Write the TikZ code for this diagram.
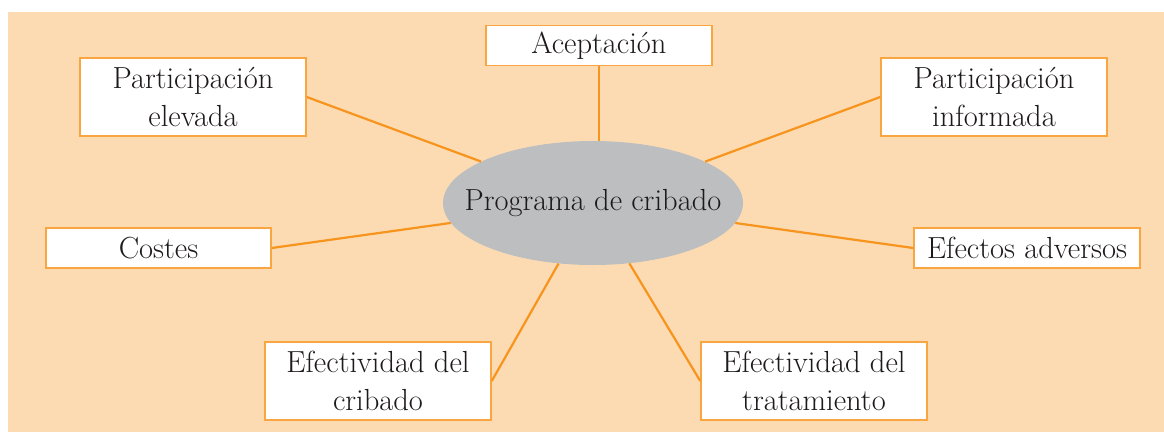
\documentclass[tikz,border=0pt]{standalone}
\usetikzlibrary{shapes.geometric}
\definecolor{peach}{RGB}{253,219,178}
\definecolor{lineor}{RGB}{247,148,29}
\definecolor{boxor}{RGB}{249,166,64}
\definecolor{ellgray}{RGB}{188,190,192}
\definecolor{txt}{RGB}{30,26,27}
\tikzset{
  leaf/.style={draw=boxor, line width=1.5pt, fill=white, inner sep=0pt,
    minimum width=226pt, align=center, text=txt,
    font=\fontsize{30.5}{37.5}\selectfont},
  leafone/.style={leaf, minimum height=40pt},
  leaftwo/.style={leaf, minimum height=78pt},
  hub/.style={ellipse, fill=ellgray, draw=none, inner sep=0pt,
    minimum width=300pt, minimum height=124pt},
  hubtext/.style={inner sep=0pt, text=txt, font=\fontsize{30.5}{37.5}\selectfont},
  spoke/.style={draw=lineor, line width=2.2pt}
}
\begin{document}
\begin{tikzpicture}[x=1pt,y=-1pt]
\useasboundingbox (0,0) rectangle (1164,432);
\fill[white] (0,0) rectangle (1164,432);
\fill[peach] (8,12) rectangle (1164,432);
\node[hub] (ell) at (593,203) {};
\node[hubtext] (elltxt) at (ell.center) {Programa de cribado};
\node[leafone] (acep) at (599,45.5) {Aceptaci\'on};
\node[leaftwo] (pelev) at (193,97) {Participaci\'on\\elevada};
\node[leaftwo] (pinf) at (994,97) {Participaci\'on\\informada};
\node[leafone, minimum width=225pt] (cost) at (158.5,248) {Costes};
\node[leafone] (efad) at (1027,248) {Efectos adversos};
\node[leaftwo] (ecrib) at (378,381) {Efectividad del\\cribado};
\node[leaftwo] (etrat) at (814,381) {Efectividad del\\tratamiento};
\draw[spoke] (acep.south) -- (acep.south |- ell.north);
\draw[spoke] (pelev.east) -- (ell);
\draw[spoke] (pinf.west) -- (ell);
\draw[spoke] (cost.east) -- (ell);
\draw[spoke] (efad.west) -- (ell);
\draw[spoke] (ecrib.east) -- (ell);
\draw[spoke] (etrat.west) -- (ell);
\end{tikzpicture}
\end{document}
